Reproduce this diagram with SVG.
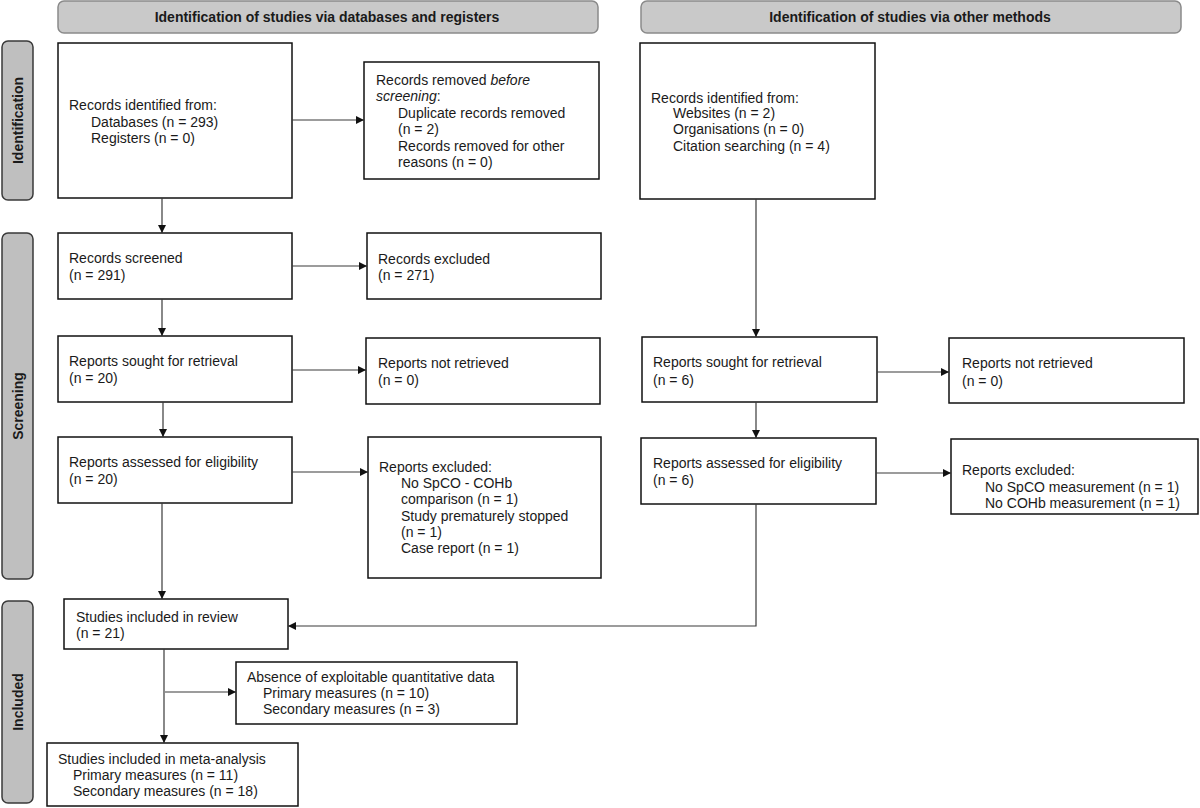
<svg xmlns="http://www.w3.org/2000/svg" width="1200" height="808" viewBox="0 0 1200 808">
<style>
.hdr{fill:#c9c9c9;stroke:#8a8a8a;stroke-width:1.5}
.side{fill:#bfbfbf;stroke:#3a3a3a;stroke-width:1.5}
.box{fill:#fff;stroke:#111;stroke-width:1.5}
.t{font-family:"Liberation Sans",Arial,sans-serif;font-size:14px;fill:#1a1a1a}
.b{font-family:"Liberation Sans",Arial,sans-serif;font-size:14px;font-weight:bold;fill:#1a1a1a;text-anchor:middle}
.c{fill:none;stroke:#3a3a3a;stroke-width:1.2}
</style>
<defs>
<marker id="ah" viewBox="0 0 10 10" refX="10" refY="5" markerWidth="9" markerHeight="8" markerUnits="userSpaceOnUse" orient="auto">
<path d="M0,0 L10,5 L0,10 z" fill="#111"/>
</marker>
</defs>
<rect width="1200" height="808" fill="#fff"/>

<g id="header-databases">
<rect class="hdr" x="58" y="1" width="540" height="32" rx="6"/>
<text class="b" x="327" y="22">Identification of studies via databases and registers</text>
</g>
<g id="header-other">
<rect class="hdr" x="641" y="1" width="540" height="32" rx="6"/>
<text class="b" x="910" y="22">Identification of studies via other methods</text>
</g>

<g id="phase-identification">
<rect class="side" x="2" y="41" width="31" height="159" rx="6"/>
<text class="b" transform="translate(22.5,120.5) rotate(-90)">Identification</text>
</g>
<g id="phase-screening">
<rect class="side" x="2" y="233" width="31" height="346" rx="6"/>
<text class="b" transform="translate(22.5,406) rotate(-90)">Screening</text>
</g>
<g id="phase-included">
<rect class="side" x="2" y="601" width="31" height="202" rx="6"/>
<text class="b" transform="translate(22.5,702) rotate(-90)">Included</text>
</g>

<g id="records-identified-db">
<rect class="box" x="58" y="43" width="234" height="155"/>
<text class="t" x="69" y="110">Records identified from:</text>
<text class="t" x="91" y="126.5">Databases (n = 293)</text>
<text class="t" x="91" y="143">Registers (n = 0)</text>
</g>
<g id="records-removed">
<rect class="box" x="364" y="62" width="235" height="117"/>
<text class="t" x="376" y="85">Records removed <tspan font-style="italic">before</tspan></text>
<text class="t" x="376" y="101"><tspan font-style="italic">screening</tspan>:</text>
<text class="t" x="398" y="117.7">Duplicate records removed</text>
<text class="t" x="398" y="134.3">(n = 2)</text>
<text class="t" x="398" y="151">Records removed for other</text>
<text class="t" x="398" y="167">reasons (n = 0)</text>
</g>
<g id="records-identified-other">
<rect class="box" x="640" y="43" width="235" height="156"/>
<text class="t" x="651" y="102.7">Records identified from:</text>
<text class="t" x="673" y="118.3">Websites (n = 2)</text>
<text class="t" x="673" y="134.3">Organisations (n = 0)</text>
<text class="t" x="673" y="150.7">Citation searching (n = 4)</text>
</g>

<g id="records-screened">
<rect class="box" x="58" y="233" width="234" height="66"/>
<text class="t" x="69" y="263.3">Records screened</text>
<text class="t" x="69" y="280">(n = 291)</text>
</g>
<g id="records-excluded">
<rect class="box" x="367" y="233" width="234" height="66"/>
<text class="t" x="378" y="263.5">Records excluded</text>
<text class="t" x="378" y="280">(n = 271)</text>
</g>

<g id="reports-sought-db">
<rect class="box" x="58" y="336" width="234" height="66"/>
<text class="t" x="69" y="366">Reports sought for retrieval</text>
<text class="t" x="69" y="382.7">(n = 20)</text>
</g>
<g id="reports-not-retrieved-db">
<rect class="box" x="366" y="338" width="234" height="66"/>
<text class="t" x="378" y="368.3">Reports not retrieved</text>
<text class="t" x="378" y="385">(n = 0)</text>
</g>

<g id="reports-assessed-db">
<rect class="box" x="58" y="437" width="234" height="66"/>
<text class="t" x="69" y="467.3">Reports assessed for eligibility</text>
<text class="t" x="69" y="484">(n = 20)</text>
</g>
<g id="reports-excluded-db">
<rect class="box" x="368" y="437" width="233" height="141"/>
<text class="t" x="379" y="471.7">Reports excluded:</text>
<text class="t" x="401" y="487.7">No SpCO - COHb</text>
<text class="t" x="401" y="504.3">comparison (n = 1)</text>
<text class="t" x="401" y="521">Study prematurely stopped</text>
<text class="t" x="401" y="537.3">(n = 1)</text>
<text class="t" x="401" y="553.3">Case report (n = 1)</text>
</g>

<g id="reports-sought-other">
<rect class="box" x="642" y="337" width="235" height="65"/>
<text class="t" x="653" y="367.3">Reports sought for retrieval</text>
<text class="t" x="653" y="385">(n = 6)</text>
</g>
<g id="reports-not-retrieved-other">
<rect class="box" x="949" y="338" width="235" height="65"/>
<text class="t" x="962" y="368.3">Reports not retrieved</text>
<text class="t" x="962" y="385.7">(n = 0)</text>
</g>
<g id="reports-assessed-other">
<rect class="box" x="641" y="438" width="235" height="66"/>
<text class="t" x="653" y="468.3">Reports assessed for eligibility</text>
<text class="t" x="653" y="485">(n = 6)</text>
</g>
<g id="reports-excluded-other">
<rect class="box" x="951" y="439" width="247" height="75"/>
<text class="t" x="962" y="475">Reports excluded:</text>
<text class="t" x="985" y="491.7">No SpCO measurement (n = 1)</text>
<text class="t" x="985" y="507.7">No COHb measurement (n = 1)</text>
</g>

<g id="studies-included">
<rect class="box" x="64" y="599" width="224" height="50"/>
<text class="t" x="76" y="621.7">Studies included in review</text>
<text class="t" x="76" y="638.3">(n = 21)</text>
</g>
<g id="absence-data">
<rect class="box" x="236" y="662" width="281" height="62"/>
<text class="t" x="247" y="681.7">Absence of exploitable quantitative data</text>
<text class="t" x="263" y="697.7">Primary measures (n = 10)</text>
<text class="t" x="263" y="714.3">Secondary measures (n = 3)</text>
</g>
<g id="meta-analysis">
<rect class="box" x="47" y="743" width="251" height="63"/>
<text class="t" x="58" y="764">Studies included in meta-analysis</text>
<text class="t" x="73" y="780">Primary measures (n = 11)</text>
<text class="t" x="73" y="795.7">Secondary measures (n = 18)</text>
</g>

<g id="connectors">
<path class="c" d="M292,120 H364" marker-end="url(#ah)"/>
<path class="c" d="M162,198 V233" marker-end="url(#ah)"/>
<path class="c" d="M292,266 H367" marker-end="url(#ah)"/>
<path class="c" d="M162,299 V336" marker-end="url(#ah)"/>
<path class="c" d="M292,370 H366" marker-end="url(#ah)"/>
<path class="c" d="M163,402 V437" marker-end="url(#ah)"/>
<path class="c" d="M292,472 H368" marker-end="url(#ah)"/>
<path class="c" d="M162,503 V599" marker-end="url(#ah)"/>
<path class="c" d="M756,199 V337" marker-end="url(#ah)"/>
<path class="c" d="M877,372 H949" marker-end="url(#ah)"/>
<path class="c" d="M756,402 V438" marker-end="url(#ah)"/>
<path class="c" d="M876,473 H951" marker-end="url(#ah)"/>
<path class="c" d="M756,504 V626 H288" marker-end="url(#ah)"/>
<path class="c" d="M164,649 V743" marker-end="url(#ah)"/>
<path class="c" d="M165,692 H236" marker-end="url(#ah)"/>
</g>
</svg>
